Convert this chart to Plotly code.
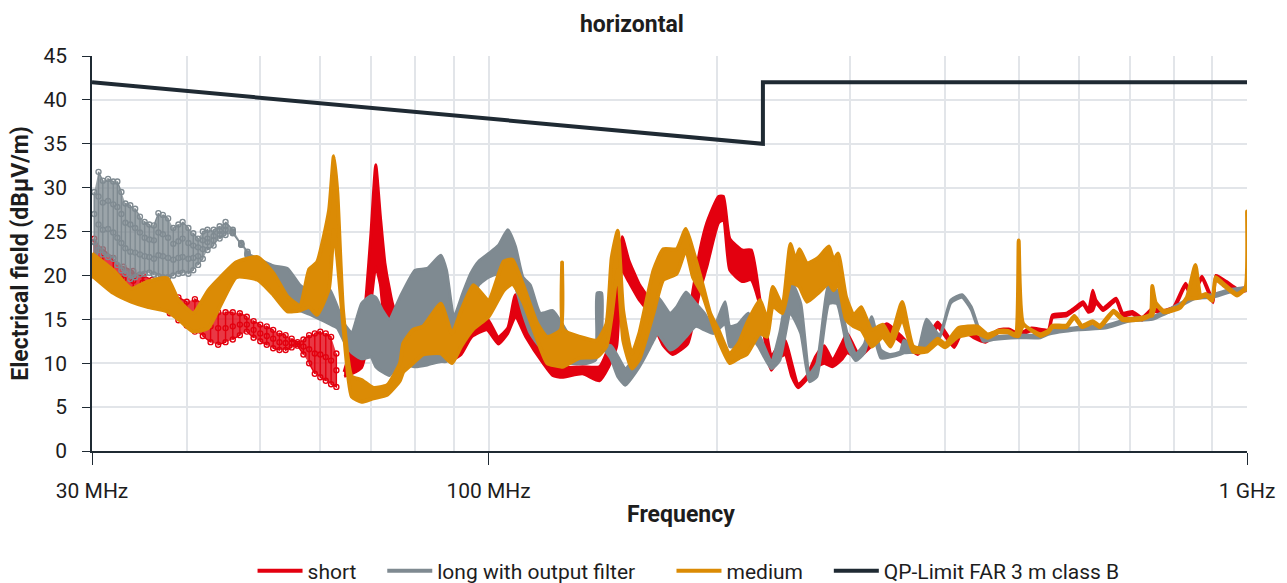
import plotly.graph_objects as go

FONT = "Roboto"
RED, GRAY, AMBER, DARK = "#e3000f", "#7f8a91", "#db8b05", "#1f2a33"

limit_f = [30, 230, 230, 1000]
limit_v = [42, 35, 42, 42]

# ring-like scatter at the low end (MHz, upper, two middle rows, lower)
gray_ring_f = [30.2, 30.6, 31, 31.5, 32, 32.4, 32.8, 33.2, 33.7, 34.2, 34.7, 35.2, 35.7, 36.2, 36.7, 37.2, 37.8, 38.4, 39, 39.5, 40.2, 40.8, 41.4, 42, 42.6, 43.4, 44.2, 45, 46, 47.2, 48.1]
gray_ring_h = [29.5, 31.8, 30.8, 31, 30.7, 30.7, 29.5, 28.2, 28, 27.6, 26.7, 26.1, 25.8, 25.7, 27.1, 26.9, 26.5, 25.4, 25.8, 26.1, 25.4, 24.8, 24.2, 25, 25.2, 25.2, 25.6, 26.1, 25.2, 23.7, 22.7]
gray_ring_a = [27, 29, 28.3, 28.5, 28.1, 27.8, 27, 26, 25.8, 25.4, 24.9, 24.3, 24.1, 24, 24.9, 24.7, 24.3, 23.6, 23.9, 24.2, 23.7, 23.4, 23.2, 24, 24.2, 24.5, 25.1, 25.6, 25, 23.6, 22.5]
gray_ring_b = [23.8, 25.8, 25.2, 25.3, 24.9, 24.3, 23.7, 23.1, 22.7, 22.6, 22.4, 22.2, 22.1, 21.9, 22.3, 22.2, 22, 21.8, 22, 22.1, 21.9, 22, 22.2, 23, 23.8, 24, 24.7, 25.2, 24.9, 23.5, 22.4]
gray_ring_l = [20.5, 22.9, 22.4, 22.1, 21.9, 21.2, 20.6, 20.2, 19.6, 19.8, 20.1, 20.2, 20.3, 20.1, 19.9, 19.8, 19.8, 20, 20.2, 20.3, 20.2, 20.6, 21.2, 21.9, 22.9, 23.4, 24.2, 24.6, 24.8, 23.5, 22.3]

red_ring_f = [30.2, 31, 32, 33, 34, 35, 36, 37, 38, 39, 40, 41, 42, 43, 44, 45, 46, 47, 48, 49, 50, 51, 52, 53, 54, 55, 56, 57, 58, 59, 60, 61, 62, 63]
red_ring_h = [24.2, 23, 22, 21, 20.5, 20, 19.5, 19, 18.5, 17.5, 17, 17.3, 16.8, 16, 15.8, 15.8, 15.8, 15.7, 15.3, 14.8, 14.4, 14.2, 13.8, 13.4, 13.2, 12.8, 12.4, 12.7, 13.2, 13.4, 13.6, 13.4, 13, 11.1]
red_ring_m = [22, 21, 20, 19.6, 19.4, 19.2, 19, 18.2, 17, 16.2, 15.7, 15.4, 15, 14.2, 14, 14, 14.2, 14.4, 14.4, 13.8, 13.4, 13.1, 12.8, 12.4, 12.3, 12.3, 12.2, 11.9, 11.6, 11.1, 11, 10.7, 10.3, 9.2]
red_ring_l = [20, 19.3, 18.4, 18.4, 18.3, 18.5, 18.7, 17.5, 15.7, 14.9, 14.3, 13.6, 13.1, 12.4, 12.1, 12.4, 12.7, 13.2, 13.6, 12.9, 12.5, 12.1, 11.7, 11.5, 11.5, 11.8, 12, 11, 10, 8.8, 8.4, 8, 7.6, 7.3]

# solid bands (MHz, upper, lower)
red_f = [64.5, 66, 68, 69, 70, 71, 72, 73, 74, 75, 78, 85, 90, 92, 95, 99.5, 103, 106, 108.5, 112, 118, 121.5, 125, 133, 140, 144, 147.5, 150, 153, 158, 162, 170, 175, 183, 186, 190, 194, 201, 204, 208, 216, 222, 228, 233, 236, 241, 246, 251, 256, 263, 270, 277, 284, 292, 297, 307, 320, 335, 349, 368, 380, 391, 411, 422, 436, 452, 470, 485, 500, 520, 547, 554, 578, 592, 608, 618, 626, 632, 646, 672, 686, 706, 727, 750, 776, 800, 830, 845, 872, 902, 910, 940, 970, 1000]
red_h = [9, 11.7, 13, 17.9, 25, 32.6, 26.7, 21.4, 18.5, 16.4, 15.5, 14.5, 12.5, 12, 13.5, 15.1, 13, 14, 17.8, 15, 12, 10, 9.5, 9.6, 9.6, 11.9, 20.2, 24.4, 21.8, 19, 17.6, 14, 13, 14.5, 18.3, 22.9, 26, 29, 29, 24.2, 22.9, 22.9, 17.2, 13, 10.8, 12, 12.6, 10, 7.6, 8.6, 10.8, 12, 10.4, 12.2, 13.4, 11.2, 13, 14.5, 13.2, 11.3, 13, 14.7, 12.2, 14.1, 13.2, 12.8, 13.8, 13.9, 13.4, 14, 13.8, 15.5, 15.7, 16.3, 17, 16.1, 18.3, 17.2, 16.3, 17.4, 15.7, 15.9, 15.2, 16.2, 16, 16.4, 19.1, 17.8, 19.9, 17.2, 20, 19.3, 18.5, 18.6]
red_l = [8.5, 8.8, 9.5, 11.7, 17, 21, 19, 14.9, 15, 15, 14, 12, 10.5, 11, 13, 13.8, 12.2, 13.4, 15.3, 13, 10, 8.6, 8.4, 8.8, 8, 9.6, 11.9, 20.6, 19.3, 17.2, 16, 12, 11, 12.2, 14.5, 18.3, 21, 26, 26.3, 20.6, 19.3, 19.5, 16.5, 10.8, 9.2, 10.5, 11, 8.5, 7.2, 8.2, 9.5, 10, 9.6, 10.4, 11.2, 10.6, 12, 13.6, 12.5, 11, 12.5, 14.1, 11.8, 13.7, 12.9, 12.4, 13.5, 13.6, 13.2, 13.7, 13.5, 15.2, 15.4, 16, 16.7, 15.8, 16, 16.9, 16, 17.1, 15.4, 15.6, 14.9, 15.9, 15.7, 16.1, 18.8, 17.5, 19.6, 16.9, 19.7, 19, 18.2, 18.3]

gray_f = [48, 52, 54.3, 56.4, 58, 60, 61.6, 63.2, 64.5, 66, 68, 70, 71, 72.5, 74, 76.4, 80, 83, 86.5, 88, 90, 92.5, 94.7, 97, 100, 103, 106, 108.5, 111, 113.5, 117, 121.5, 125, 128, 135, 138.5, 139, 141, 141.5, 145, 148, 151.5, 157, 160, 165, 167, 173.5, 177, 182, 187.6, 192.5, 198, 205, 208, 213, 220, 227, 236, 242, 250, 258, 265, 271, 281, 288, 297, 305, 313, 320, 329, 338, 349, 353, 368, 378, 393, 407, 421, 433, 449, 463, 500, 534, 547, 600, 650, 700, 750, 800, 855, 900, 950, 1000]
gray_h = [22.5, 21.1, 20.8, 18.9, 18.2, 18, 18.5, 16.4, 14.5, 13.5, 16.8, 17.7, 17.5, 16, 15, 17.5, 20.6, 20.8, 22.3, 20.6, 15.3, 18, 20.2, 21.6, 22.5, 23.4, 25.2, 23.3, 19.8, 18.9, 15.7, 16, 14.5, 13, 10.6, 10.8, 18, 18, 12.2, 12, 10.8, 9.4, 11.1, 13.4, 16.4, 17.6, 15.7, 16.4, 18.1, 16.8, 15.7, 14.1, 17, 14.2, 14.4, 15.7, 13.4, 10.3, 13.4, 19.5, 16.8, 8.8, 10, 19, 18.3, 13.4, 11.1, 12.2, 15.3, 11.5, 11, 11.3, 12.6, 11.6, 15, 13.2, 17.2, 17.8, 16.4, 12.8, 13, 13.2, 13.2, 13.6, 14.1, 14.3, 15.1, 15.3, 16.4, 17.7, 17.8, 18.4, 18.6]
gray_l = [20, 19.5, 17.5, 16, 15.6, 15, 14.5, 14, 12.5, 11.2, 10.5, 10.7, 9.6, 9, 8.6, 10, 9.6, 9.8, 10.2, 10.2, 13, 14.5, 16.6, 18.9, 19.8, 20.2, 20.2, 18.7, 15.7, 13.4, 11.9, 11.9, 10.8, 10, 10, 10.4, 13.8, 12.5, 11.8, 10.5, 8.5, 7.5, 9.2, 10.4, 12.6, 13.4, 11.5, 11.9, 13, 14.2, 13.8, 13.4, 14.5, 11.9, 11.9, 13.4, 11.9, 9.4, 10.3, 15.7, 13.4, 7.9, 8.5, 16.8, 16.8, 11.9, 10.3, 11.2, 14, 10.6, 10.7, 11, 11.2, 11.3, 12, 12.9, 16.9, 17.5, 16.1, 12.5, 12.7, 12.9, 12.9, 13.3, 13.8, 14, 14.8, 15, 16.1, 17.4, 17.5, 18.1, 18.3]

amber_f = [30, 32, 33.8, 35.5, 37.7, 39, 40.8, 42.7, 44.2, 46.5, 49.6, 52, 54.3, 56.4, 58, 59.4, 61.6, 62.5, 63.2, 64.3, 66, 68, 70.5, 73.5, 76.4, 77.2, 79.5, 82, 86.5, 89.5, 92, 95.5, 100, 104.7, 107.5, 111, 116, 119.5, 124.5, 125, 125.5, 132, 139, 143, 145.3, 148, 150.5, 154.5, 158, 165, 170, 177, 182, 186, 191.5, 196, 201, 208, 214, 219, 228, 233, 237, 244, 250, 254, 257, 263, 272, 281, 285, 289, 296, 303, 310, 320, 331, 339, 351, 363, 378, 391, 400, 416, 441, 455, 470, 484, 495, 500, 507, 534, 547, 554, 578, 592, 606, 626, 640, 667, 686, 727, 746, 750, 758, 776, 816, 833, 855, 869, 883, 900, 909, 930, 970, 995, 1000]
amber_h = [22.5, 20.6, 18.5, 19.3, 19.7, 17.2, 15.7, 18.3, 19.7, 21.5, 22.1, 20.3, 17.6, 16.6, 20.7, 21.5, 27.4, 33.6, 29.4, 16, 8.5, 8.1, 7.2, 7.5, 10, 12.3, 13.8, 14.2, 16.8, 13.4, 16, 18.9, 17.2, 21.6, 21.8, 19, 14.5, 13, 13.8, 21.5, 13.8, 13, 12.6, 14.5, 22, 25.1, 16, 11.1, 13.4, 20.6, 23, 23, 25.3, 22.9, 19, 15.7, 13.8, 11.1, 12.4, 14.5, 17.2, 15, 18.7, 16.6, 23.6, 21.8, 23, 21.4, 22, 23.3, 21.8, 22.5, 17.6, 15.5, 16.4, 13.8, 14.4, 13, 17, 11.9, 11.7, 12.8, 12.2, 14, 14.2, 13.3, 13.7, 13.7, 13.3, 24, 14.5, 13.3, 13.7, 14.3, 14.3, 15.4, 14.3, 14.8, 14.3, 16, 15.1, 15.2, 15.6, 18.8, 16.9, 16, 16.5, 17.5, 21.2, 17.7, 17.9, 17.3, 19.8, 19.1, 17.9, 18.6, 27.3]
amber_l = [20, 18, 17, 16.4, 15.9, 15, 13.6, 14, 16.4, 19.8, 19.5, 17.8, 15.9, 16, 16.4, 15.5, 18.5, 25.2, 21.8, 14.5, 6.2, 5.6, 6, 6.4, 8, 9, 10, 11, 11.1, 10, 11.9, 13.9, 15.3, 18.3, 19, 17, 12.6, 10, 9.6, 9.6, 9.6, 10.6, 10.7, 11.9, 15.3, 20.6, 12.6, 9.4, 10.4, 15.7, 19.5, 20.2, 22.9, 19.8, 17.8, 15.2, 12.6, 10, 10.6, 11, 13.4, 13, 16.5, 15.7, 19.1, 19, 18.7, 17, 18, 19.1, 18.3, 19, 15, 14.2, 13.8, 11.9, 13, 11.9, 15, 11.3, 11.3, 12.3, 11.8, 13, 13.4, 12.9, 13.5, 13.5, 13.1, 13.1, 14.3, 13.1, 13.5, 14.1, 14.1, 15.2, 14.1, 14.6, 14.1, 15.8, 14.9, 15, 15.4, 15.4, 16.7, 15.8, 16.3, 17.3, 17.4, 17.5, 17.7, 17.1, 19.5, 18.9, 17.7, 18.4, 18.4]

major_ticks = [30, 100, 1000]
major_labels = ["30 MHz", "100 MHz", "1 GHz"]
minor_ticks = [40, 50, 60, 70, 80, 90, 200, 300, 400, 500, 600, 700, 800, 900]
legend_names = ["short\u00a0\u00a0\u00a0\u00a0", "long with output filter\u00a0\u00a0\u00a0\u00a0\u00a0\u00a0", "medium\u00a0\u00a0\u00a0\u00a0", "QP-Limit FAR 3 m class B"]


def band(f, hi, lo, color, width=3):
    return go.Scatter(x=f + f[::-1], y=hi + lo[::-1], mode="lines", fill="toself",
                      fillcolor=color, line=dict(color=color, width=width, shape="spline", smoothing=0.5),
                      hoverinfo="skip", showlegend=False)


def haze(f, hi, lo, rgba):
    return go.Scatter(x=f + f[::-1], y=hi + lo[::-1], mode="lines", fill="toself",
                      fillcolor=rgba, line=dict(width=0), hoverinfo="skip", showlegend=False)


def rings(f, rows, color):
    xs, ys = [], []
    for i, x in enumerate(f):
        col = [r[i] for r in rows]
        if i % 2:
            col = col[::-1]
        xs += [x] * len(col)
        ys += col
    return go.Scatter(x=xs, y=ys, mode="lines+markers",
                      line=dict(color=color, width=1.4),
                      marker=dict(symbol="circle-open", size=5, color=color, line=dict(width=1.4, color=color)),
                      hoverinfo="skip", showlegend=False)


fig = go.Figure()
fig.add_trace(haze(red_ring_f, red_ring_h, red_ring_l, "rgba(227,0,15,0.78)"))
fig.add_trace(rings(red_ring_f, [red_ring_h, red_ring_m, red_ring_l], RED))
fig.add_trace(band(red_f, red_h, red_l, RED))
fig.add_trace(haze(gray_ring_f, gray_ring_h, gray_ring_l, "rgba(127,138,145,0.78)"))
fig.add_trace(rings(gray_ring_f, [gray_ring_h, gray_ring_a, gray_ring_b, gray_ring_l], GRAY))
fig.add_trace(band(gray_f, gray_h, gray_l, GRAY))
fig.add_trace(band(amber_f, amber_h, amber_l, AMBER, 3.8))
fig.add_trace(go.Scatter(x=limit_f, y=limit_v, mode="lines", hoverinfo="skip",
                         line=dict(color=DARK, width=4), showlegend=False))
for name, color in zip(legend_names, [RED, GRAY, AMBER, DARK]):
    fig.add_trace(go.Scatter(x=[None], y=[None], mode="lines", name=name,
                             line=dict(color=color, width=4)))

fig.update_layout(
    width=1287, height=583, autosize=False,
    margin=dict(l=92, r=40, t=56, b=132),
    paper_bgcolor="white", plot_bgcolor="white",
    font=dict(family=FONT, size=21, color="#1d1d1d"),
    title=dict(text="<b>horizontal</b>", x=0.491, xanchor="center", y=0.959, yanchor="middle",
               font=dict(family=FONT, size=23, color="#1d1d1d")),
    legend=dict(orientation="h", xref="container", yref="container", x=0.535, xanchor="center",
                y=0.0206, yanchor="middle", itemwidth=45, font=dict(family=FONT, size=21),
                bgcolor="rgba(0,0,0,0)"),
    showlegend=True,
)
fig.update_xaxes(
    type="log", range=[1.47712, 3], tickmode="array", tickvals=major_ticks, ticktext=major_labels,
    ticks="outside", ticklen=12, tickwidth=1, tickcolor="#1f2a33", tickangle=0, ticklabelstandoff=8,
    showline=True, linecolor="#1f2a33", linewidth=1.5, showgrid=True, automargin=False,
    gridcolor="#e2e5e9", gridwidth=2, zeroline=False,
    title=dict(text="<b>\u00a0\u00a0\u00a0\u00a0Frequency</b>", standoff=4, font=dict(family=FONT, size=23)),
    minor=dict(tickmode="array", tickvals=minor_ticks, showgrid=True,
               gridcolor="#e2e5e9", gridwidth=2, ticks=""),
    tickfont=dict(family=FONT, size=21),
)
fig.update_yaxes(
    range=[0, 45], tick0=0, dtick=5, ticks="outside", ticklen=8, tickwidth=1, tickcolor="#1f2a33",
    ticklabelstandoff=11, automargin=False,
    showline=True, linecolor="#1f2a33", linewidth=1.5, showgrid=True,
    gridcolor="#e2e5e9", gridwidth=2, zeroline=False,
    title=dict(text="<b>Electrical field (dBµV/m)</b>", standoff=8, font=dict(family=FONT, size=23)),
    tickfont=dict(family=FONT, size=21),
)
fig.write_html("out.html", config={"displayModeBar": False},
               post_script="document.body.style.margin='0';document.body.style.overflow='hidden';")
